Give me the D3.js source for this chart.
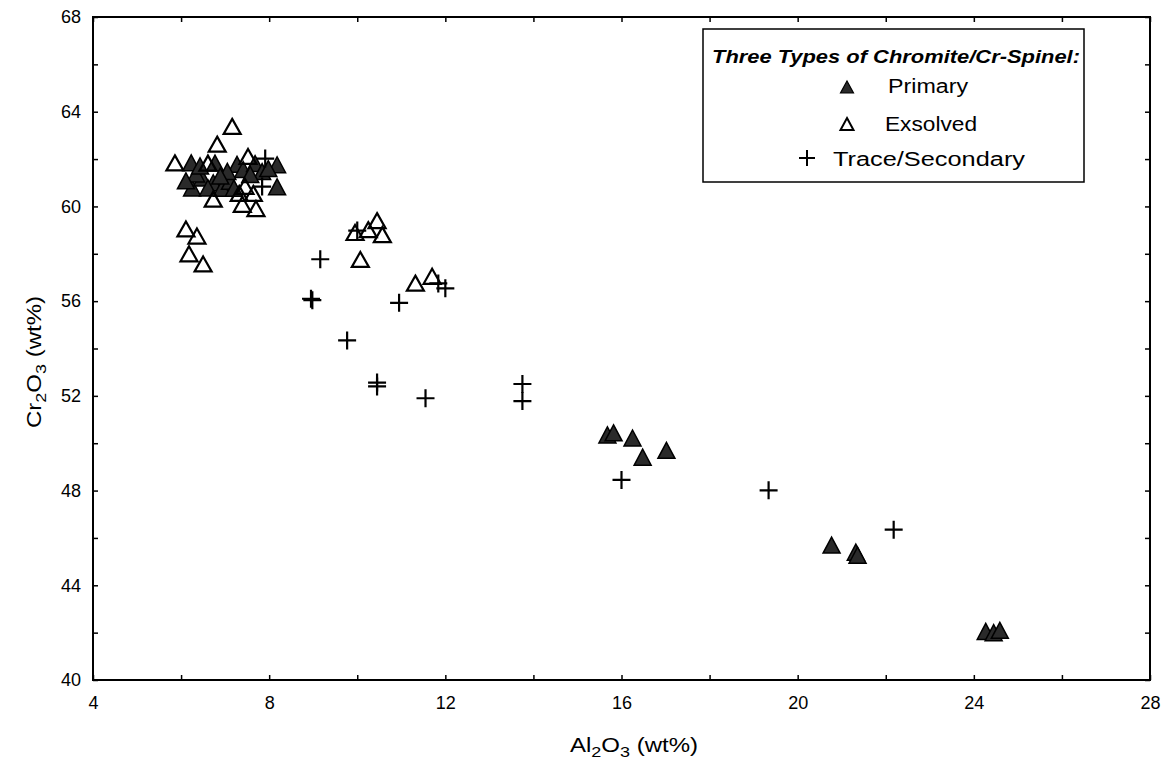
<!DOCTYPE html>
<html>
<head>
<meta charset="utf-8">
<script src="https://cdn.jsdelivr.net/npm/d3@7"></script>
<style>
  body { margin: 0; background: #fff; }
  text { font-family: "Liberation Sans", Arial, sans-serif; fill: #000; }
</style>
</head>
<body>
<svg id="chart"></svg>
<script>
// [Al2O3 wt%, Cr2O3 wt%]
const primary = [
  [6.23, 61.84], [6.77, 61.83], [7.27, 61.78], [7.41, 61.56], [7.68, 61.81], [8.18, 61.76],
  [8.18, 60.83], [6.25, 60.78], [6.48, 61.2], [6.73, 61.0], [6.93, 60.77], [6.34, 61.37],
  [7.11, 61.06], [7.05, 61.48], [6.61, 60.78], [6.11, 61.08], [7.84, 61.47], [7.98, 61.6],
  [7.57, 61.35], [6.89, 61.28], [6.43, 61.71], [7.2, 60.77],
  [15.68, 50.35], [15.82, 50.44], [16.25, 50.22], [16.48, 49.41], [17.02, 49.7],
  [20.77, 45.7], [21.32, 45.4], [21.36, 45.27], [24.27, 42.05], [24.45, 42.0], [24.59, 42.1]
];
const exsolved = [
  [7.16, 63.38], [6.82, 62.63], [5.86, 61.84], [6.61, 61.83], [7.52, 62.11], [7.45, 60.85],
  [7.64, 60.55], [6.73, 60.31], [7.39, 60.09], [7.32, 60.55], [7.7, 59.91], [6.11, 59.05],
  [6.36, 58.75], [6.18, 58.0], [6.5, 57.57], [9.95, 58.9], [10.25, 59.02], [10.45, 59.4],
  [10.57, 58.81], [10.07, 57.76], [11.32, 56.76], [11.7, 57.05]
];
const traceSecondary = [
  [7.91, 62.02], [7.84, 60.84], [10.0, 58.98], [9.16, 57.77], [8.98, 56.04], [8.95, 56.1],
  [10.95, 55.93], [11.84, 56.75], [12.0, 56.54], [9.77, 54.34], [10.45, 52.56], [10.45, 52.4],
  [11.55, 51.9], [13.75, 52.5], [13.75, 51.78], [16.0, 48.45], [19.34, 48.01], [22.18, 46.35]
];

const xTicks = [4, 6, 8, 10, 12, 14, 16, 18, 20, 22, 24, 26, 28];
const yTicks = [40, 42, 44, 46, 48, 50, 52, 54, 56, 58, 60, 62, 64, 66, 68];
const legendTitle = "Three Types of Chromite/Cr-Spinel:";
const legendItems = ["Primary", "Exsolved", "Trace/Secondary"];

const W = 1170, H = 761;
const margin = { top: 17, right: 20, bottom: 81, left: 93 };
const width = W - margin.left - margin.right;
const height = H - margin.top - margin.bottom;

const svg = d3.select('#chart').attr('width', W).attr('height', H);
const chart = svg.append('g').attr('transform', `translate(${margin.left},${margin.top})`);

const xScale = d3.scaleLinear().domain([4, 28]).range([0, width]);
const yScale = d3.scaleLinear().domain([40, 68]).range([height, 0]);

// triangle path centred on its bounding box
const tri = (w, h) => `M0,${-h / 2}L${w / 2},${h / 2}L${-w / 2},${h / 2}Z`;
const plus = s => `M${-s / 2},0H${s / 2}M0,${-s / 2}V${s / 2}`;

const label4 = d => d % 4 === 0 ? d : '';

const xAxis = d3.axisBottom(xScale).tickValues(xTicks).tickSize(-5).tickPadding(16).tickFormat(label4);
const yAxis = d3.axisLeft(yScale).tickValues(yTicks).tickSize(-5).tickPadding(12).tickFormat(label4);
const xTop = d3.axisTop(xScale).tickValues(xTicks).tickSize(-5).tickFormat('');
const yRight = d3.axisRight(yScale).tickValues(yTicks).tickSize(-5).tickFormat('');

const styleAxis = g => {
  g.select('.domain').remove();
  g.selectAll('line').attr('stroke', '#000').attr('stroke-width', 1.5);
  g.selectAll('text').attr('font-size', 18).attr('fill', '#000')
    .attr('font-family', '"Liberation Sans", Arial, sans-serif');
};

chart.append('g').attr('transform', `translate(0,${height})`).call(xAxis).call(styleAxis);
chart.append('g').call(yAxis).call(styleAxis);
chart.append('g').call(xTop).call(styleAxis);
chart.append('g').attr('transform', `translate(${width},0)`).call(yRight).call(styleAxis);

chart.append('rect')
  .attr('width', width).attr('height', height)
  .attr('fill', 'none').attr('stroke', '#000').attr('stroke-width', 2);

// points
chart.append('g').selectAll('path')
  .data(primary)
  .join('path')
  .attr('transform', d => `translate(${xScale(d[0])},${yScale(d[1])})`)
  .attr('d', tri(17, 16))
  .attr('fill', '#2a2a2a').attr('stroke', '#000').attr('stroke-width', 1.5);

chart.append('g').selectAll('path')
  .data(exsolved)
  .join('path')
  .attr('transform', d => `translate(${xScale(d[0])},${yScale(d[1])})`)
  .attr('d', tri(17, 15))
  .attr('fill', 'none').attr('stroke', '#000').attr('stroke-width', 2.2);

chart.append('g').selectAll('path')
  .data(traceSecondary)
  .join('path')
  .attr('transform', d => `translate(${xScale(d[0])},${yScale(d[1])})`)
  .attr('d', plus(18))
  .attr('fill', 'none').attr('stroke', '#000').attr('stroke-width', 2.2);

// axis titles (the scanned original is a bit wider than the font)
const subTitle = (sel, a, b) => {
  sel.append('tspan').text(a);
  sel.append('tspan').attr('font-size', 15).attr('dy', 5).text('2');
  sel.append('tspan').attr('dy', -5).text('O');
  sel.append('tspan').attr('font-size', 15).attr('dy', 5).text('3');
  sel.append('tspan').attr('dy', -5).text(b);
};

svg.append('text')
  .attr('transform', 'translate(634,752) scale(1.2,1)')
  .attr('text-anchor', 'middle').attr('font-size', 20)
  .call(subTitle, 'Al', ' (wt%)');

svg.append('text')
  .attr('transform', 'translate(41,362) rotate(-90) scale(1.2,1)')
  .attr('text-anchor', 'middle').attr('font-size', 20)
  .call(subTitle, 'Cr', ' (wt%)');

// legend
const legend = svg.append('g');
legend.append('rect')
  .attr('x', 703).attr('y', 29).attr('width', 381).attr('height', 153)
  .attr('fill', '#fff').attr('stroke', '#000').attr('stroke-width', 1.5);
legend.append('text')
  .attr('x', 712).attr('y', 63)
  .attr('font-size', 19).attr('font-weight', 'bold').attr('font-style', 'italic')
  .attr('textLength', 368).attr('lengthAdjust', 'spacingAndGlyphs')
  .text(legendTitle);

const legendRows = [
  { sym: tri(13, 12), fill: '#2a2a2a', sw: 1.2, sx: 847, sy: 87, tx: 888, ty: 93, len: 80 },
  { sym: tri(13, 12), fill: 'none', sw: 2, sx: 847, sy: 124, tx: 885, ty: 131, len: 92 },
  { sym: plus(16), fill: 'none', sw: 2, sx: 807, sy: 158, tx: 833, ty: 166, len: 192 }
];
legendRows.forEach((r, i) => {
  legend.append('path')
    .attr('transform', `translate(${r.sx},${r.sy})`)
    .attr('d', r.sym).attr('fill', r.fill).attr('stroke', '#000').attr('stroke-width', r.sw);
  legend.append('text')
    .attr('x', r.tx).attr('y', r.ty).attr('font-size', 20)
    .attr('textLength', r.len).attr('lengthAdjust', 'spacingAndGlyphs')
    .text(legendItems[i]);
});
</script>
</body>
</html>
